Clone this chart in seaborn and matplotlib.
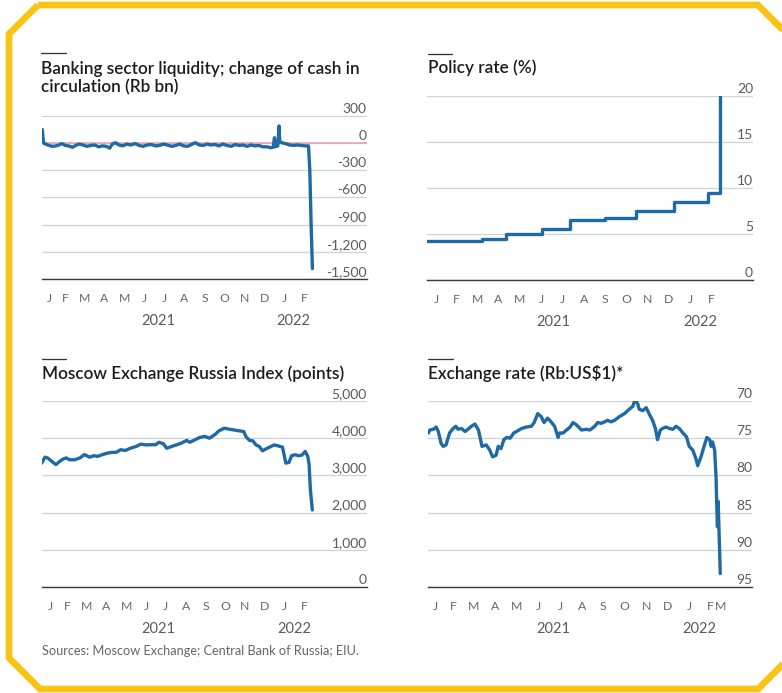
import matplotlib
matplotlib.use("Agg")
import matplotlib.pyplot as plt
import matplotlib.dates as mdates
from matplotlib.lines import Line2D
from matplotlib.patches import Polygon
import seaborn as sns
import pandas as pd

# ---------------- data ----------------
liq_dates = ["2021-01-11", "2021-01-12", "2021-01-13", "2021-01-16", "2021-01-21", "2021-01-26",
             "2021-02-01", "2021-02-05", "2021-02-10", "2021-02-15", "2021-02-20", "2021-02-26",
             "2021-03-03", "2021-03-08", "2021-03-14", "2021-03-20", "2021-03-26", "2021-04-01",
             "2021-04-07", "2021-04-13", "2021-04-19", "2021-04-24", "2021-04-28", "2021-05-03",
             "2021-05-08", "2021-05-14", "2021-05-20", "2021-05-26", "2021-06-02", "2021-06-08",
             "2021-06-14", "2021-06-20", "2021-06-27", "2021-07-03", "2021-07-09", "2021-07-15",
             "2021-07-21", "2021-07-28", "2021-08-03", "2021-08-09", "2021-08-15", "2021-08-21",
             "2021-08-27", "2021-09-02", "2021-09-08", "2021-09-14", "2021-09-20", "2021-09-26",
             "2021-10-02", "2021-10-08", "2021-10-14", "2021-10-20", "2021-10-27", "2021-11-02",
             "2021-11-08", "2021-11-14", "2021-11-20", "2021-11-26", "2021-12-02", "2021-12-08",
             "2021-12-14", "2021-12-20", "2021-12-26", "2021-12-30", "2022-01-01", "2022-01-02",
             "2022-01-06", "2022-01-08", "2022-01-09", "2022-01-12", "2022-01-18", "2022-01-24",
             "2022-01-30", "2022-02-05", "2022-02-11", "2022-02-17", "2022-02-22", "2022-02-24",
             "2022-02-26", "2022-02-28"]
liq_values = [150, 60, 0, -10, -25, -35,
              -30, -20, -5, -25, -30, -45,
              -25, -10, -20, -35, -25, -20,
              -40, -30, -35, -55, -10, 5,
              -20, -30, -10, -20, -5, -25,
              -35, -20, -15, -30, -25, -10,
              -20, -35, -25, -10, -30, -35,
              -15, 5, -20, -25, -10, -20,
              -15, -30, -10, -25, -35, -15,
              -25, -20, -35, -20, -30, -25,
              -40, -40, -50, -45, 60, -40,
              -30, 190, 20, 5, -5, -20,
              -25, -20, -25, -30, -30, -300,
              -900, -1385]

rate_dates = ["2021-01-03", "2021-03-23", "2021-04-27", "2021-06-17", "2021-07-28",
              "2021-09-16", "2021-10-30", "2021-12-24", "2022-02-11", "2022-02-28"]
rate_values = [4.25, 4.5, 5.0, 5.5, 6.5, 6.75, 7.5, 8.5, 9.5, 20.0]

moex_dates = ["2021-01-06", "2021-01-11", "2021-01-15", "2021-01-20", "2021-01-28", "2021-02-03",
              "2021-02-08", "2021-02-13", "2021-02-18", "2021-02-26", "2021-03-06", "2021-03-13",
              "2021-03-21", "2021-03-28", "2021-04-02", "2021-04-10", "2021-04-18", "2021-04-25",
              "2021-05-01", "2021-05-08", "2021-05-15", "2021-05-23", "2021-06-01", "2021-06-08",
              "2021-06-16", "2021-06-23", "2021-07-01", "2021-07-06", "2021-07-13", "2021-07-18",
              "2021-07-26", "2021-08-03", "2021-08-10", "2021-08-18", "2021-08-23", "2021-08-31",
              "2021-09-07", "2021-09-15", "2021-09-22", "2021-09-30", "2021-10-07", "2021-10-15",
              "2021-10-22", "2021-10-29", "2021-11-06", "2021-11-14", "2021-11-18", "2021-11-23",
              "2021-11-28", "2021-12-03", "2021-12-08", "2021-12-13", "2021-12-18", "2021-12-23",
              "2021-12-31", "2022-01-07", "2022-01-13", "2022-01-18", "2022-01-23", "2022-01-27",
              "2022-02-01", "2022-02-07", "2022-02-12", "2022-02-17", "2022-02-21", "2022-02-23",
              "2022-02-25", "2022-02-28"]
moex_values = [3330, 3490, 3470, 3400, 3290, 3380,
               3440, 3470, 3420, 3420, 3470, 3560,
               3490, 3530, 3510, 3560, 3600, 3620,
               3620, 3690, 3670, 3730, 3780, 3840,
               3820, 3825, 3825, 3890, 3850, 3730,
               3780, 3825, 3870, 3940, 3890, 3960,
               4020, 4050, 4000, 4090, 4200, 4270,
               4245, 4225, 4200, 4180, 4030, 3940,
               3930, 3820, 3780, 3660, 3710, 3750,
               3820, 3790, 3760, 3330, 3350, 3530,
               3555, 3530, 3546, 3645, 3510, 3300,
               2620, 2070]

fx_dates = ["2021-01-11", "2021-01-13", "2021-01-18", "2021-01-22", "2021-01-25", "2021-01-29",
            "2021-02-01", "2021-02-05", "2021-02-10", "2021-02-15", "2021-02-19", "2021-02-22",
            "2021-02-27", "2021-03-04", "2021-03-08", "2021-03-13", "2021-03-18", "2021-03-23",
            "2021-03-28", "2021-04-03", "2021-04-08", "2021-04-12", "2021-04-17", "2021-04-20",
            "2021-04-24", "2021-04-28", "2021-05-02", "2021-05-07", "2021-05-12", "2021-05-16",
            "2021-05-23", "2021-05-30", "2021-06-06", "2021-06-10", "2021-06-15", "2021-06-20",
            "2021-06-24", "2021-06-29", "2021-07-04", "2021-07-09", "2021-07-14", "2021-07-16",
            "2021-07-21", "2021-07-26", "2021-07-31", "2021-08-04", "2021-08-09", "2021-08-16",
            "2021-08-23", "2021-08-28", "2021-09-04", "2021-09-08", "2021-09-13", "2021-09-18",
            "2021-09-22", "2021-09-27", "2021-10-02", "2021-10-09", "2021-10-16", "2021-10-23",
            "2021-10-28", "2021-10-31", "2021-11-04", "2021-11-06", "2021-11-11", "2021-11-16",
            "2021-11-21", "2021-11-25", "2021-11-29", "2021-12-02", "2021-12-06", "2021-12-09",
            "2021-12-14", "2021-12-19", "2021-12-24", "2021-12-28", "2022-01-02", "2022-01-07",
            "2022-01-12", "2022-01-16", "2022-01-21", "2022-01-26", "2022-01-28", "2022-02-02",
            "2022-02-05", "2022-02-10", "2022-02-14", "2022-02-16", "2022-02-18", "2022-02-21",
            "2022-02-23", "2022-02-24", "2022-02-25", "2022-02-26", "2022-03-01"]
fx_values = [74.3, 73.9, 73.8, 73.5, 74.1, 75.7,
             76.1, 75.9, 74.3, 73.7, 73.4, 73.8,
             73.7, 74.1, 73.8, 73.4, 73.1, 73.9,
             76.1, 75.9, 76.6, 77.5, 77.3, 76.1,
             76.4, 75.2, 74.9, 75.0, 74.3, 74.1,
             73.7, 73.5, 73.4, 72.9, 71.7, 72.1,
             72.9, 72.3, 72.8, 73.4, 74.9, 74.3,
             74.3, 73.9, 73.5, 72.9, 73.2, 73.9,
             73.8, 73.9, 73.4, 72.9, 73.0, 72.8,
             72.6, 72.8, 72.6, 72.1, 71.7, 71.1,
             70.7, 69.8, 70.4, 71.1, 71.3, 70.9,
             71.9, 72.6, 73.7, 75.2, 73.9, 73.7,
             73.5, 73.7, 73.8, 73.4, 73.7, 74.3,
             74.8, 76.1, 76.6, 77.9, 78.7, 77.4,
             76.4, 74.9, 75.2, 76.1, 75.5, 76.6,
             80.2, 84.0, 86.9, 83.5, 93.2]

month_labels = ["J", "F", "M", "A", "M", "J", "J", "A", "S", "O", "N", "D", "J", "F"]
year_labels = ["2021", "2022"]

liq_ticks = [300, 0, -300, -600, -900, -1200, -1500]
liq_tick_labels = ["300", "0", "-300", "-600", "-900", "-1,200", "-1,500"]
rate_ticks = [20, 15, 10, 5, 0]
rate_tick_labels = ["20", "15", "10", "5", "0"]
moex_ticks = [5000, 4000, 3000, 2000, 1000, 0]
moex_tick_labels = ["5,000", "4,000", "3,000", "2,000", "1,000", "0"]
fx_ticks = [70, 75, 80, 85, 90, 95]
fx_tick_labels = ["70", "75", "80", "85", "90", "95"]

titles = ["Banking sector liquidity; change of cash in\ncirculation (Rb bn)",
          "Policy rate (%)",
          "Moscow Exchange Russia Index (points)",
          "Exchange rate (Rb:US$1)*"]
source_text = "Sources: Moscow Exchange; Central Bank of Russia; EIU."

# ---------------- style ----------------
sns.set_theme(style="white")
plt.rcParams["font.family"] = ["Lato", "DejaVu Sans"]

W, H = 782, 693
BLUE = "#1f69a4"
GRID = "#c9d6e0"
RED = "#e7a3a3"
AXIS = "#3a3a3a"
TITLE_C = "#1c1c1c"
TICK_C = "#5a5a5a"
YELLOW = "#F9C414"
PT = 0.72  # points per pixel at dpi 100

fig = plt.figure(figsize=(W / 100, H / 100), dpi=100)
fig.patch.set_facecolor("white")


def fx_(x):
    return x / W


def fy_(y):
    return 1 - y / H


def make_axes(l, r, t, b):
    return fig.add_axes([fx_(l), fy_(b), (r - l) / W, (b - t) / H])


def style_axes(ax, xlim, ylim, ticks, labels, invert=False, m_label_extra=None):
    x0, x1 = pd.Timestamp(xlim[0]), pd.Timestamp(xlim[1])
    ax.set_xlim(mdates.date2num(x0), mdates.date2num(x1))
    if invert:
        ax.set_ylim(ylim[1], ylim[0])
    else:
        ax.set_ylim(ylim[0], ylim[1])
    ax.set_facecolor("none")
    for s in ["top", "left", "right"]:
        ax.spines[s].set_visible(False)
    ax.spines["bottom"].set_color(AXIS)
    ax.spines["bottom"].set_linewidth(1.0)
    ax.set_yticks(ticks)
    ax.tick_params(axis="y", length=0, labelleft=False, labelright=False)
    ax.grid(axis="y", color=GRID, lw=1.0 * PT * 1.3, zorder=0)
    ax.grid(axis="x", visible=False)
    ax.set_axisbelow(True)
    ax.set_xlabel("")
    ax.set_ylabel("")
    # y labels above gridlines on the right
    for v, lab in zip(ticks, labels):
        ax.annotate(lab, xy=(1, v), xycoords=("axes fraction", "data"),
                    xytext=(0, 3 * PT), textcoords="offset points",
                    ha="right", va="baseline", fontsize=10.0, color=TICK_C,
                    annotation_clip=False)
    # x ticks: month starts
    month_starts = pd.date_range("2021-02-01", "2022-03-01", freq="MS")
    major = [x0] + [d for d in month_starts if d != pd.Timestamp("2022-01-01")]
    ax.set_xticks([mdates.date2num(d) for d in major])
    ax.set_xticks([mdates.date2num(pd.Timestamp("2022-01-01"))], minor=True)
    ax.tick_params(axis="x", which="major", direction="out", length=4 * PT, width=1.0 * PT,
                   color=AXIS, labelbottom=False)
    ax.tick_params(axis="x", which="minor", direction="out", length=10 * PT, width=1.0 * PT,
                   color=AXIS, labelbottom=False)
    # month labels centred in each month
    bounds = [x0] + list(pd.date_range("2021-02-01", "2022-03-01", freq="MS"))
    for i, lab in enumerate(month_labels):
        a, b = bounds[i], bounds[i + 1]
        c = a + (b - a) / 2
        ax.annotate(lab, xy=(mdates.date2num(c), 0), xycoords=("data", "axes fraction"),
                    xytext=(0, -20 * PT), textcoords="offset points", ha="center",
                    va="center", fontsize=8.8, color="#666666", annotation_clip=False)
    if m_label_extra is not None:
        ax.annotate(m_label_extra, xy=(mdates.date2num(pd.Timestamp("2022-03-02")), 0),
                    xycoords=("data", "axes fraction"), xytext=(0, -20 * PT),
                    textcoords="offset points", ha="center", va="center",
                    fontsize=8.8, color="#666666", annotation_clip=False)
    # year labels
    y_bounds = [(x0, pd.Timestamp("2022-01-01")),
                (pd.Timestamp("2022-01-01"), pd.Timestamp("2022-03-01"))]
    for (a, b), lab in zip(y_bounds, year_labels):
        c = a + (b - a) / 2
        ax.annotate(lab, xy=(mdates.date2num(c), 0), xycoords=("data", "axes fraction"),
                    xytext=(0, -42 * PT), textcoords="offset points", ha="center",
                    va="center", fontsize=10.5, color=TICK_C, annotation_clip=False)


def title(x, y_base, text, y_rule):
    fig.text(fx_(x), fy_(y_base), text, ha="left", va="baseline", fontsize=12.3,
             fontweight="semibold", color=TITLE_C, linespacing=1.15)
    fig.add_artist(Line2D([fx_(x), fx_(x + 24.5)], [fy_(y_rule), fy_(y_rule)],
                          transform=fig.transFigure, color="#333333", lw=1.3 * PT))


# ---------------- panel 1: liquidity ----------------
ax1 = make_axes(41.7, 366.7, 116, 279)
df1 = pd.DataFrame({"date": pd.to_datetime(liq_dates), "value": liq_values})
style_axes(ax1, ("2021-01-10", "2022-05-22"), (-1500, 300), liq_ticks, liq_tick_labels)
ax1.axhline(0, color=RED, lw=1.2 * PT * 1.3, zorder=1)
sns.lineplot(data=df1, x="date", y="value", ax=ax1, color=BLUE, lw=2.4, zorder=3)
ax1.set_xlabel(""); ax1.set_ylabel("")
ax1.set_xlim(mdates.date2num(pd.Timestamp("2021-01-10")), mdates.date2num(pd.Timestamp("2022-05-22")))
ax1.set_ylim(-1500, 300)

# ---------------- panel 2: policy rate ----------------
ax2 = make_axes(426.7, 753, 96, 280)
df2 = pd.DataFrame({"date": pd.to_datetime(rate_dates), "value": rate_values})
style_axes(ax2, ("2021-01-03", "2022-04-16"), (0, 20), rate_ticks, rate_tick_labels)
sns.lineplot(data=df2, x="date", y="value", ax=ax2, color=BLUE, lw=2.4,
             drawstyle="steps-post", zorder=3)
ax2.set_xlabel(""); ax2.set_ylabel("")
ax2.set_xlim(mdates.date2num(pd.Timestamp("2021-01-03")), mdates.date2num(pd.Timestamp("2022-04-16")))
ax2.set_ylim(0, 20)

# ---------------- panel 3: MOEX ----------------
ax3 = make_axes(41.7, 366.7, 401, 587)
df3 = pd.DataFrame({"date": pd.to_datetime(moex_dates), "value": moex_values})
style_axes(ax3, ("2021-01-06", "2022-05-23"), (0, 5000), moex_ticks, moex_tick_labels)
sns.lineplot(data=df3, x="date", y="value", ax=ax3, color=BLUE, lw=2.4, zorder=3)
ax3.set_xlabel(""); ax3.set_ylabel("")
ax3.set_xlim(mdates.date2num(pd.Timestamp("2021-01-06")), mdates.date2num(pd.Timestamp("2022-05-23")))
ax3.set_ylim(0, 5000)

# ---------------- panel 4: exchange rate ----------------
ax4 = make_axes(427.7, 752, 401, 587)
df4 = pd.DataFrame({"date": pd.to_datetime(fx_dates), "value": fx_values})
style_axes(ax4, ("2021-01-10", "2022-04-15"), (70, 95), fx_ticks, fx_tick_labels,
           invert=True, m_label_extra="M")
sns.lineplot(data=df4, x="date", y="value", ax=ax4, color=BLUE, lw=2.4, zorder=3)
ax4.set_xlabel(""); ax4.set_ylabel("")
ax4.set_xlim(mdates.date2num(pd.Timestamp("2021-01-10")), mdates.date2num(pd.Timestamp("2022-04-15")))
ax4.set_ylim(95, 70)

# ---------------- titles / source ----------------
title(41, 92.7, titles[0], 53.3)
title(427.5, 72.7, titles[1], 54)
title(41.5, 379.3, titles[2], 359)
title(428, 379.3, titles[3], 359)

fig.text(fx_(41.5), fy_(655), source_text, ha="left", va="baseline", fontsize=9.2,
         color="#666666")

# ---------------- yellow frame ----------------
frame_px = [(38, 5), (758, 5), (806, 53), (806, 641), (758, 689), (40, 689), (9, 658), (9, 34)]
frame = Polygon([(fx_(x), fy_(y)) for x, y in frame_px], closed=True, fill=False,
                edgecolor=YELLOW, lw=6.7 * PT, joinstyle="miter",
                transform=fig.transFigure, clip_on=False)
fig.add_artist(frame)

fig.savefig("out.png", dpi=100, facecolor="white")
